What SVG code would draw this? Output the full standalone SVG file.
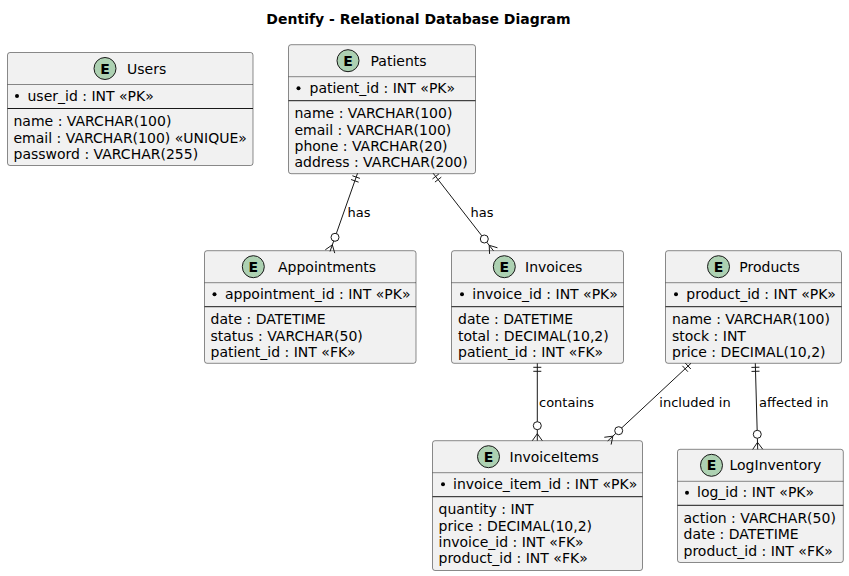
<svg xmlns="http://www.w3.org/2000/svg" width="849" height="576" viewBox="0 0 849 576">
<style>
.box{fill:#F1F1F1;stroke:#181818;stroke-width:0.5}
.hsep{stroke:#181818;stroke-width:0.5}
.psep{stroke:#181818;stroke-width:1}
.ec{fill:#ADD1B2;stroke:#181818;stroke-width:1}
.el{font-family:"DejaVu Sans",sans-serif;font-size:14px;font-weight:bold;fill:#000;text-anchor:middle}
.nm{font-family:"DejaVu Sans",sans-serif;font-size:14px;fill:#000}
.at{font-family:"DejaVu Sans",sans-serif;font-size:14px;fill:#000}
.lb{font-family:"DejaVu Sans",sans-serif;font-size:13px;fill:#000}
.ttl{font-family:"DejaVu Sans",sans-serif;font-size:14px;font-weight:bold;fill:#000;text-anchor:middle}
.cn line,.cn polyline{stroke:#181818;stroke-width:1;fill:none}
.cn circle{stroke:#181818;stroke-width:1;fill:none}
</style>
<rect width="849" height="576" fill="#FFFFFF"/>
<text class="ttl" x="418.5" y="23.5">Dentify - Relational Database Diagram</text>

<g id="users" transform="translate(7.5,52.5)">
<rect class="box" x="0" y="0" width="245.5" height="113" rx="2.5"/>
<line class="hsep" x1="0" y1="32" x2="245.5" y2="32"/>
<circle class="ec" cx="97.5" cy="16" r="11"/>
<text class="el" x="97.5" y="21">E</text>
<text class="nm" x="119.5" y="21">Users</text>
<circle cx="9.5" cy="43.5" r="2" fill="#000"/>
<text class="at" x="20" y="48">user_id : INT «PK»</text>
<line class="psep" x1="0" y1="56" x2="245.5" y2="56"/>
<text class="at" x="6" y="73.7">name : VARCHAR(100)</text>
<text class="at" x="6" y="90">email : VARCHAR(100) «UNIQUE»</text>
<text class="at" x="6" y="106.3">password : VARCHAR(255)</text>
</g>

<g id="patients" transform="translate(288.5,44.7)">
<rect class="box" x="0" y="0" width="187" height="129" rx="2.5"/>
<line class="hsep" x1="0" y1="32" x2="187" y2="32"/>
<circle class="ec" cx="59.5" cy="16" r="11"/>
<text class="el" x="59.5" y="21">E</text>
<text class="nm" x="82" y="21">Patients</text>
<circle cx="10" cy="43.5" r="2" fill="#000"/>
<text class="at" x="21" y="48">patient_id : INT «PK»</text>
<line class="psep" x1="0" y1="56" x2="187" y2="56"/>
<text class="at" x="6" y="73.7">name : VARCHAR(100)</text>
<text class="at" x="6" y="90">email : VARCHAR(100)</text>
<text class="at" x="6" y="106.3">phone : VARCHAR(20)</text>
<text class="at" x="6" y="122.6">address : VARCHAR(200)</text>
</g>

<g id="appointments" transform="translate(204.5,250.7)">
<rect class="box" x="0" y="0" width="211.5" height="112.6" rx="2.5"/>
<line class="hsep" x1="0" y1="32" x2="211.5" y2="32"/>
<circle class="ec" cx="48.8" cy="16" r="11"/>
<text class="el" x="48.8" y="21">E</text>
<text class="nm" x="73.5" y="21">Appointments</text>
<circle cx="10" cy="43.5" r="2" fill="#000"/>
<text class="at" x="20.5" y="48">appointment_id : INT «PK»</text>
<line class="psep" x1="0" y1="56" x2="211.5" y2="56"/>
<text class="at" x="6" y="73.7">date : DATETIME</text>
<text class="at" x="6" y="90">status : VARCHAR(50)</text>
<text class="at" x="6" y="106.3">patient_id : INT «FK»</text>
</g>

<g id="invoices" transform="translate(451.5,250.7)">
<rect class="box" x="0" y="0" width="172" height="112.6" rx="2.5"/>
<line class="hsep" x1="0" y1="32" x2="172" y2="32"/>
<circle class="ec" cx="52.8" cy="16" r="11"/>
<text class="el" x="52.8" y="21">E</text>
<text class="nm" x="73.5" y="21">Invoices</text>
<circle cx="10.5" cy="43.5" r="2" fill="#000"/>
<text class="at" x="20.8" y="48">invoice_id : INT «PK»</text>
<line class="psep" x1="0" y1="56" x2="172" y2="56"/>
<text class="at" x="6.5" y="73.7">date : DATETIME</text>
<text class="at" x="6.5" y="90">total : DECIMAL(10,2)</text>
<text class="at" x="6.5" y="106.3">patient_id : INT «FK»</text>
</g>

<g id="products" transform="translate(665.5,250.7)">
<rect class="box" x="0" y="0" width="176" height="112.6" rx="2.5"/>
<line class="hsep" x1="0" y1="32" x2="176" y2="32"/>
<circle class="ec" cx="53" cy="16" r="11"/>
<text class="el" x="53" y="21">E</text>
<text class="nm" x="73.8" y="21">Products</text>
<circle cx="10.5" cy="43.5" r="2" fill="#000"/>
<text class="at" x="20.8" y="48">product_id : INT «PK»</text>
<line class="psep" x1="0" y1="56" x2="176" y2="56"/>
<text class="at" x="6.5" y="73.7">name : VARCHAR(100)</text>
<text class="at" x="6.5" y="90">stock : INT</text>
<text class="at" x="6.5" y="106.3">price : DECIMAL(10,2)</text>
</g>

<g id="invoiceitems" transform="translate(432.5,440.7)">
<rect class="box" x="0" y="0" width="210" height="129.8" rx="2.5"/>
<line class="hsep" x1="0" y1="32" x2="210" y2="32"/>
<circle class="ec" cx="56" cy="16" r="11"/>
<text class="el" x="56" y="21">E</text>
<text class="nm" x="77" y="21">InvoiceItems</text>
<circle cx="10.5" cy="43.5" r="2" fill="#000"/>
<text class="at" x="20.5" y="48">invoice_item_id : INT «PK»</text>
<line class="psep" x1="0" y1="56" x2="210" y2="56"/>
<text class="at" x="6" y="73.7">quantity : INT</text>
<text class="at" x="6" y="90">price : DECIMAL(10,2)</text>
<text class="at" x="6" y="106.3">invoice_id : INT «FK»</text>
<text class="at" x="6" y="122.6">product_id : INT «FK»</text>
</g>

<g id="loginventory" transform="translate(677.5,449.3)">
<rect class="box" x="0" y="0" width="165.8" height="113.2" rx="2.5"/>
<line class="hsep" x1="0" y1="32" x2="165.8" y2="32"/>
<circle class="ec" cx="34" cy="16" r="11"/>
<text class="el" x="34" y="21">E</text>
<text class="nm" x="52" y="21">LogInventory</text>
<circle cx="9.5" cy="43.5" r="2" fill="#000"/>
<text class="at" x="19.5" y="48">log_id : INT «PK»</text>
<line class="psep" x1="0" y1="56" x2="165.8" y2="56"/>
<text class="at" x="6" y="73.7">action : VARCHAR(50)</text>
<text class="at" x="6" y="90">date : DATETIME</text>
<text class="at" x="6" y="106.3">product_id : INT «FK»</text>
</g>

<g id="connectors" class="cn">
<g id="c-pat-app">
<line x1="357.5" y1="173.3" x2="336.33" y2="233.53"/>
<line x1="352.4" y1="175.74" x2="359.94" y2="178.4"/>
<line x1="351.07" y1="179.51" x2="358.61" y2="182.17"/>
<circle cx="335" cy="237.3" r="4"/>
<line x1="333.67" y1="241.07" x2="330.02" y2="251.45"/>
<polyline points="334.74,253.11 332.34,244.85 325.30,249.79"/>
<text class="lb" x="347.5" y="216.7">has</text>
</g>
<g id="c-pat-inv">
<line x1="433.2" y1="173.3" x2="481.84" y2="235.84"/>
<line x1="432.5" y1="178.92" x2="438.82" y2="174.0"/>
<line x1="434.95" y1="182.07" x2="441.27" y2="177.15"/>
<circle cx="484.3" cy="239" r="4"/>
<line x1="486.76" y1="242.16" x2="493.51" y2="250.84"/>
<polyline points="497.46,247.77 489.21,245.32 489.57,253.91"/>
<text class="lb" x="470.5" y="216.7">has</text>
</g>
<g id="c-inv-items">
<line x1="537.3" y1="363.3" x2="537.3" y2="421.7"/>
<line x1="533.3" y1="367.3" x2="541.3" y2="367.3"/>
<line x1="533.3" y1="371.3" x2="541.3" y2="371.3"/>
<circle cx="537.3" cy="425.7" r="4"/>
<line x1="537.3" y1="429.7" x2="537.3" y2="440.7"/>
<polyline points="532.3,440.7 537.3,433.7 542.3,440.7"/>
<text class="lb" x="539" y="406.7">contains</text>
</g>
<g id="c-prod-items">
<line x1="691" y1="363.3" x2="621.63" y2="427.97"/>
<line x1="685.34" y1="363.1" x2="690.8" y2="368.96"/>
<line x1="682.42" y1="365.83" x2="687.88" y2="371.69"/>
<circle cx="618.7" cy="430.7" r="4"/>
<line x1="615.77" y1="433.43" x2="607.73" y2="440.93"/>
<polyline points="611.14,444.59 612.85,436.16 604.32,437.27"/>
<text class="lb" x="659.3" y="406.7">included in</text>
</g>
<g id="c-prod-log">
<line x1="755.3" y1="363.3" x2="757.17" y2="430.31"/>
<line x1="751.41" y1="367.41" x2="759.41" y2="367.19"/>
<line x1="751.52" y1="371.41" x2="759.52" y2="371.19"/>
<circle cx="757.28" cy="434.31" r="4"/>
<line x1="757.39" y1="438.31" x2="757.7" y2="449.3"/>
<polyline points="762.7,449.16 757.5,442.3 752.7,449.44"/>
<text class="lb" x="759" y="406.7">affected in</text>
</g>
</g>
</svg>
